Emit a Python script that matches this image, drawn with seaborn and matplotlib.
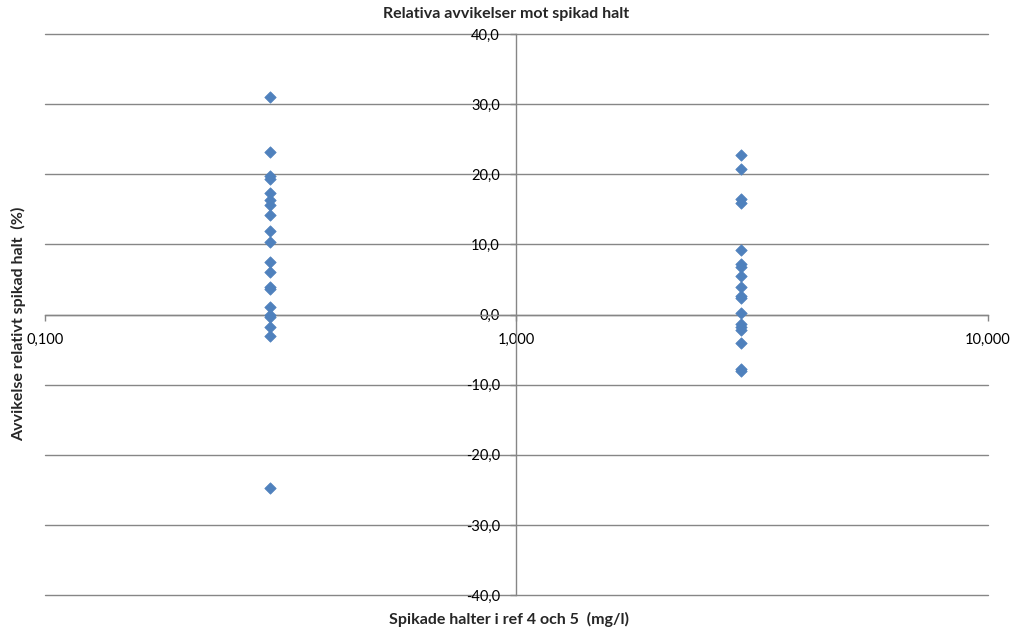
import pandas as pd
import seaborn as sns
import matplotlib.pyplot as plt
from matplotlib.ticker import FixedLocator, FuncFormatter, NullLocator

# Spiked concentrations (mg/l) and relative deviations (%)
low_conc = 0.3
low_dev = [31.0, 23.2, 19.7, 19.4, 17.3, 16.4, 15.6, 14.2, 11.9, 10.4,
           7.5, 6.1, 4.0, 3.6, 1.1, 0.0, -0.3, -1.8, -3.0, -24.8]
high_conc = 3.0
high_dev = [22.7, 20.7, 16.5, 15.9, 9.2, 7.2, 6.8, 5.5, 4.0, 2.7, 2.4,
            0.2, -1.4, -1.8, -2.2, -4.0, -7.8, -8.1]

x_ticks = [0.1, 1.0, 10.0]
y_ticks = [-40, -30, -20, -10, 0, 10, 20, 30, 40]

df = pd.DataFrame({
    "halt": [low_conc] * len(low_dev) + [high_conc] * len(high_dev),
    "avvikelse": low_dev + high_dev,
})

sns.set_style("white")
plt.rcParams["font.family"] = ["Lato", "DejaVu Sans"]

grey = "#868686"
fig = plt.figure(figsize=(10.13, 6.32), dpi=100)
ax = fig.add_axes([0.0444, 0.0585, 0.9309, 0.8875])

sns.scatterplot(data=df, x="halt", y="avvikelse", marker="D", s=34,
                color="#4F81BD", edgecolor="#4F81BD", linewidth=0.5,
                ax=ax, zorder=3, legend=False)

ax.set_xscale("log")
ax.set_xlim(0.1, 10)
ax.set_ylim(-40, 40)
ax.xaxis.set_major_locator(FixedLocator(x_ticks))
ax.xaxis.set_minor_locator(NullLocator())
ax.yaxis.set_major_locator(FixedLocator(y_ticks))
ax.xaxis.set_major_formatter(FuncFormatter(lambda v, p: f"{v:.3f}".replace(".", ",")))
ax.yaxis.set_major_formatter(FuncFormatter(lambda v, p: f"{v:.1f}".replace(".", ",")))

# Excel-like crossing axes
ax.spines["left"].set_position(("data", 1))
ax.spines["bottom"].set_position(("data", 0))
ax.spines["top"].set_visible(False)
ax.spines["right"].set_visible(False)
for s in ["left", "bottom"]:
    ax.spines[s].set_color(grey)
    ax.spines[s].set_linewidth(1)

ax.yaxis.grid(True, color=grey, linewidth=1)
ax.xaxis.grid(False)
ax.set_axisbelow(True)
for line in ax.get_ygridlines():
    line.set_clip_on(False)
ax.tick_params(axis="both", direction="out", length=4, width=1, color=grey,
               labelsize=10.5, labelcolor="black")
ax.tick_params(axis="x", bottom=True, pad=9)
ax.tick_params(axis="y", left=True, pad=8)

ax.set_xlabel("")
ax.set_ylabel("")
fig.text(0.5, 0.978, "Relativa avvikelser mot spikad halt", ha="center", va="center",
         fontsize=11.5, fontweight="bold")
fig.text(0.502, 0.02, "Spikade halter i ref 4 och 5  (mg/l)", ha="center", va="center",
         fontsize=11.5, fontweight="bold")
fig.text(0.018, 0.487, "Avvikelse relativt spikad halt  (%)", ha="center", va="center",
         rotation=90, fontsize=11.5, fontweight="bold")

fig.savefig("out.png", dpi=100)
